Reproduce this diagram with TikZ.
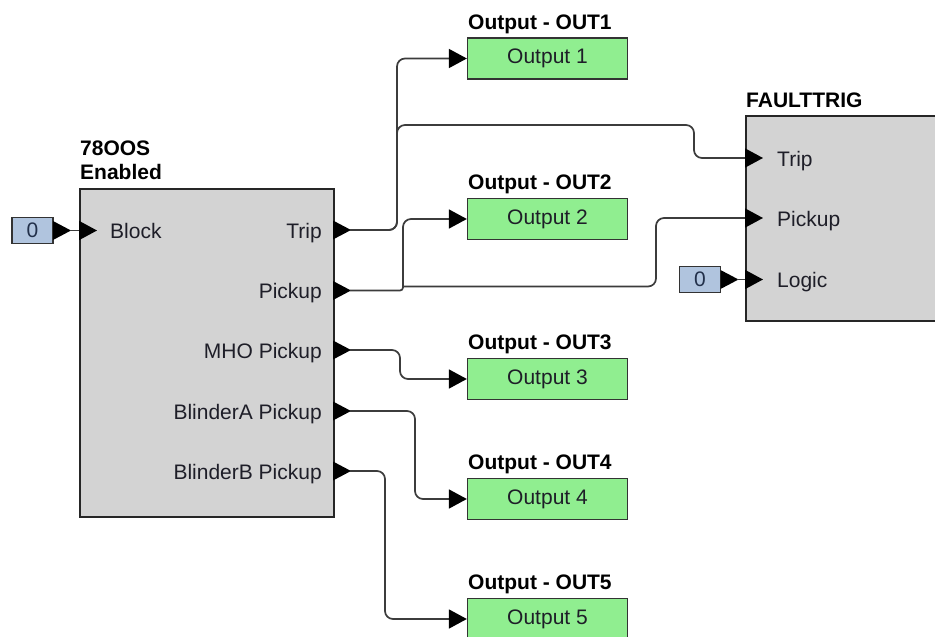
\documentclass[tikz,border=0pt]{standalone}
\usepackage{fontspec}
\setmainfont{Liberation Sans}
\usetikzlibrary{arrows.meta}
\definecolor{blockgray}{HTML}{D3D3D3}
\definecolor{outgreen}{HTML}{90EE90}
\definecolor{constblue}{HTML}{B0C4DE}
\definecolor{wirecol}{HTML}{3C3C3C}
\definecolor{txtcol}{HTML}{1E1E28}
\definecolor{consttxt}{HTML}{22304A}
\begin{document}
\begin{tikzpicture}[x=1pt,y=-1pt,
  font=\fontsize{21}{25}\selectfont,
  fblock/.style={draw=black!85, line width=1.6pt, fill=blockgray, inner sep=0pt, anchor=north west},
  outbox/.style={draw=black!80, line width=1.3pt, fill=outgreen, minimum width=160pt, minimum height=41pt, inner sep=0pt, text=txtcol},
  constbox/.style={draw=black!80, line width=1.3pt, fill=constblue, minimum width=41pt, minimum height=26pt, inner sep=0pt, text=consttxt},
  titlelbl/.style={font=\fontsize{21}{25}\selectfont\bfseries, anchor=base west, inner sep=0pt, text=black},
  leftlbl/.style={anchor=base west, inner sep=0pt, text=txtcol},
  rightlbl/.style={anchor=base east, inner sep=0pt, text=txtcol},
  wire/.style={draw=wirecol, line width=1.7pt, rounded corners=8pt},
  arr/.style={wire, -{Triangle[length=18pt,width=19pt,color=black]}},
  porttri/.pic={\fill[black] (0,-9.5) -- (18,0) -- (0,9.5) -- cycle;}
]
\useasboundingbox (0,0) rectangle (935,637);
\fill[white] (0,0) rectangle (935,637);

% main block
\node[fblock, minimum width=254pt, minimum height=328pt] (oos) at (79,188) {};
\node[titlelbl] (oosname) at (80,155) {78OOS};
\node[titlelbl] (oosstate) at (80,179) {Enabled};
\node[leftlbl] (lblock) at (110,238) {Block};
\node[rightlbl] (ltrip) at (322,238) {Trip};
\node[rightlbl] (lpick) at (322,298) {Pickup};
\node[rightlbl] (lmho) at (322,358) {MHO Pickup};
\node[rightlbl] (lbla) at (322,419) {BlinderA Pickup};
\node[rightlbl] (lblb) at (322,479) {BlinderB Pickup};

% FAULTTRIG block
\node[fblock, minimum width=200pt, minimum height=205pt] (ft) at (745,115) {};
\node[titlelbl] (ftname) at (746,107) {FAULTTRIG};
\node[leftlbl] (lftrip) at (777,166) {Trip};
\node[leftlbl] (lfpick) at (777,226) {Pickup};
\node[leftlbl] (lflogic) at (777,287) {Logic};

% output boxes
\node[outbox] (o1) at (547.5,58.5) {Output 1};
\node[outbox] (o2) at (547.5,219) {Output 2};
\node[outbox] (o3) at (547.5,379) {Output 3};
\node[outbox] (o4) at (547.5,499) {Output 4};
\node[outbox] (o5) at (547.5,619) {Output 5};
\node[titlelbl] (t1) at (468,29) {Output - OUT1};
\node[titlelbl] (t2) at (468,189) {Output - OUT2};
\node[titlelbl] (t3) at (468,349) {Output - OUT3};
\node[titlelbl] (t4) at (468,469) {Output - OUT4};
\node[titlelbl] (t5) at (468,589) {Output - OUT5};

% constant boxes
\node[constbox] (c1) at (32.5,230.5) {0};
\node[constbox] (c2) at (700,279.5) {0};

% output port triangles
\pic at (333,230) {porttri};
\pic at (333,290.5) {porttri};
\pic at (333,350) {porttri};
\pic at (333,411) {porttri};
\pic at (333,471) {porttri};
\pic at (53,230.5) {porttri};
\pic at (720.5,279.5) {porttri};

% port coordinates
\coordinate (oos-trip) at (350,230);
\coordinate (oos-pick) at (350,290.5);
\coordinate (oos-mho) at (350,350);
\coordinate (oos-bla) at (350,411);
\coordinate (oos-blb) at (350,471);
\coordinate (oos-in) at (97,230.5);
\coordinate (c1-out) at (70,230.5);
\coordinate (c2-out) at (737,279.5);
\coordinate (ft-trip) at (763,158);
\coordinate (ft-pick) at (763,218);
\coordinate (ft-logic) at (763,279.5);
\coordinate (pickjoin) at (403,286.5);

% wires
\draw[arr] (c1-out) -- (oos-in);
\draw[arr] (c2-out) -- (ft-logic);
\draw[arr] (oos-trip) -- (397,230) -- (397,58.5) -- (o1.west);
\draw[arr] (oos-trip) -- (397,230) -- (397,125) -- (694,125) -- (694,158) -- (ft-trip);
\draw[arr] (oos-pick) [rounded corners=3pt] -- (403,290.5) [rounded corners=8pt] -- (403,219) -- (o2.west);
\draw[arr] (pickjoin) -- (656,286.5) -- (656,218) -- (ft-pick);
\draw[arr] (oos-mho) -- (400,350) -- (400,379) -- (o3.west);
\draw[arr] (oos-bla) -- (415,411) -- (415,499) -- (o4.west);
\draw[arr] (oos-blb) -- (385,471) -- (385,619) -- (o5.west);
\end{tikzpicture}
\end{document}
